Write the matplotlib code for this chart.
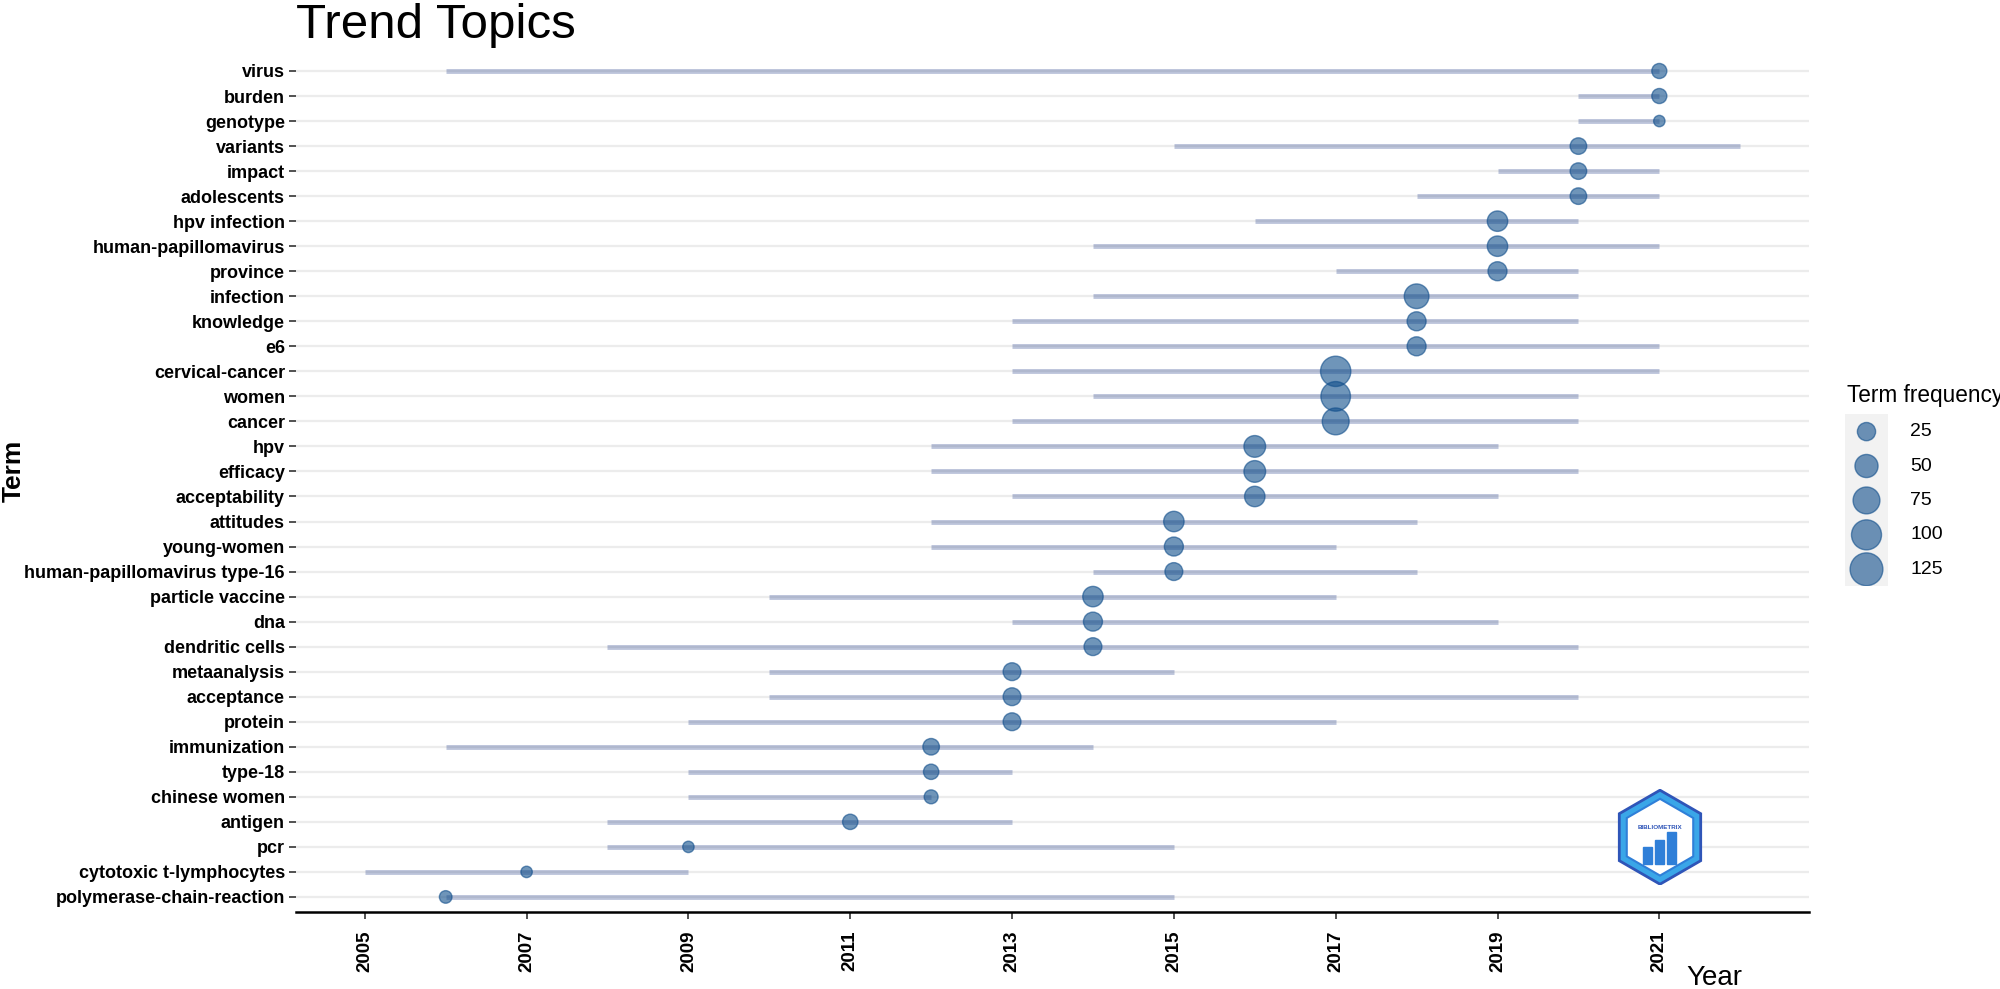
import numpy as np
import matplotlib.pyplot as plt
from matplotlib.patches import RegularPolygon, Rectangle

# terms from bottom to top
terms = ['polymerase-chain-reaction', 'cytotoxic t-lymphocytes', 'pcr', 'antigen',
         'chinese women', 'type-18', 'immunization', 'protein', 'acceptance',
         'metaanalysis', 'dendritic cells', 'dna', 'particle vaccine',
         'human-papillomavirus type-16', 'young-women', 'attitudes', 'acceptability',
         'efficacy', 'hpv', 'cancer', 'women', 'cervical-cancer', 'e6', 'knowledge',
         'infection', 'province', 'human-papillomavirus', 'hpv infection',
         'adolescents', 'impact', 'variants', 'genotype', 'burden', 'virus']
year_q1 = [2006, 2005, 2008, 2008, 2009, 2009, 2006, 2009, 2010, 2010, 2008, 2013,
           2010, 2014, 2012, 2012, 2013, 2012, 2012, 2013, 2014, 2013, 2013, 2013,
           2014, 2017, 2014, 2016, 2018, 2019, 2015, 2020, 2020, 2006]
year_med = [2006, 2007, 2009, 2011, 2012, 2012, 2012, 2013, 2013, 2013, 2014, 2014,
            2014, 2015, 2015, 2015, 2016, 2016, 2016, 2017, 2017, 2017, 2018, 2018,
            2018, 2019, 2019, 2019, 2020, 2020, 2020, 2021, 2021, 2021]
year_q3 = [2015, 2009, 2015, 2013, 2012, 2013, 2014, 2017, 2020, 2015, 2020, 2019,
           2017, 2018, 2017, 2018, 2019, 2020, 2019, 2020, 2020, 2021, 2021, 2020,
           2020, 2020, 2021, 2020, 2021, 2021, 2022, 2021, 2021, 2021]
freq = [9, 6, 6, 18, 13, 18, 23, 29, 29, 29, 29, 35, 43, 29, 35, 43, 43, 51, 51,
        90, 115, 122, 35, 35, 72, 35, 43, 43, 23, 23, 23, 6, 17, 17]
legend_vals = [25, 50, 75, 100, 125]
x_ticks = list(range(2005, 2022, 2))


def msize(f):
    d_px = 6 + 2.2 * np.sqrt(np.asarray(f, dtype=float))
    return (d_px * 72 / 100) ** 2


plt.rcParams['font.family'] = ['Liberation Sans', 'DejaVu Sans']

fig = plt.figure(figsize=(20, 9.89), dpi=100)
ax = fig.add_axes([0.148, 0.0779, 0.7565, 0.8655])

y = np.arange(1, len(terms) + 1)
for yy in y:
    ax.axhline(yy, color='#ececec', lw=1.6, zorder=0)
ax.hlines(y, year_q1, year_q3, color='#27408B', alpha=0.3, lw=3.5, zorder=1)
ax.scatter(year_med, y, s=msize(freq), color='#104E8B', alpha=0.6,
           edgecolors='#104E8B', linewidths=1.0, zorder=2)

ax.set_xlim(2004.15, 2022.85)
ax.set_ylim(0.4, len(terms) + 0.6)
ax.set_yticks(y)
ax.set_yticklabels(terms, fontsize=13, fontweight='bold')
ax.set_xticks(x_ticks)
ax.set_xticklabels([str(t) for t in x_ticks], rotation=90, fontsize=13.5, fontweight='bold')
ax.tick_params(axis='y', length=5, width=1.2, color='#333333', pad=3)
ax.tick_params(axis='x', length=5, width=1.2, color='#333333', pad=8)
for side in ['top', 'right', 'left']:
    ax.spines[side].set_visible(False)
ax.spines['bottom'].set_linewidth(1.8)

fig.text(0.148, 0.962, 'Trend Topics', fontsize=35.5, ha='left', va='baseline')
fig.text(0.007, 0.524, 'Term', fontsize=19, fontweight='bold', rotation=90,
         ha='center', va='center')
fig.text(0.857, 0.004, 'Year', fontsize=20, ha='center', va='baseline')

# legend
fig.text(0.9235, 0.6, 'Term frequency', fontsize=16.3, ha='left', va='center')
lax = fig.add_axes([0.9225, 0.407, 0.0215, 0.174])
lax.add_patch(Rectangle((0, 0), 1, 1, color='#f2f2f2', transform=lax.transAxes))
ly = [4.5, 3.5, 2.5, 1.5, 0.5]
lax.scatter([0.5] * 5, ly, s=msize(legend_vals) * 1.15, color='#104E8B', alpha=0.6,
            edgecolors='#104E8B', linewidths=1.0)
lax.set_xlim(0, 1)
lax.set_ylim(0, 5)
lax.axis('off')
for v, yy in zip(legend_vals, ly):
    fig.text(0.955, 0.407 + 0.174 * yy / 5, str(v), fontsize=14, ha='left', va='center')

# bibliometrix logo
gax = fig.add_axes([0.806, 0.105, 0.048, 0.097])
gax.set_xlim(-1, 1)
gax.set_ylim(-1, 1)
gax.set_aspect('equal')
gax.axis('off')
gax.add_patch(RegularPolygon((0, 0), 6, radius=0.98, orientation=0,
                             facecolor='#3aa6e8', edgecolor='#2f55b8', lw=2))
gax.add_patch(RegularPolygon((0, 0), 6, radius=0.8, orientation=0,
                             facecolor='#ffffff', edgecolor='#2f7fd8', lw=1.5))
gax.text(0, 0.2, 'BIBLIOMETRIX', fontsize=4.5, fontweight='bold', color='#2f55b8',
         ha='center', va='center')
for i, h in enumerate([0.35, 0.5, 0.65]):
    gax.add_patch(Rectangle((-0.35 + i * 0.25, -0.55), 0.18, h, color='#2f7fd8'))

fig.savefig('out.png', dpi=100, facecolor='white')
